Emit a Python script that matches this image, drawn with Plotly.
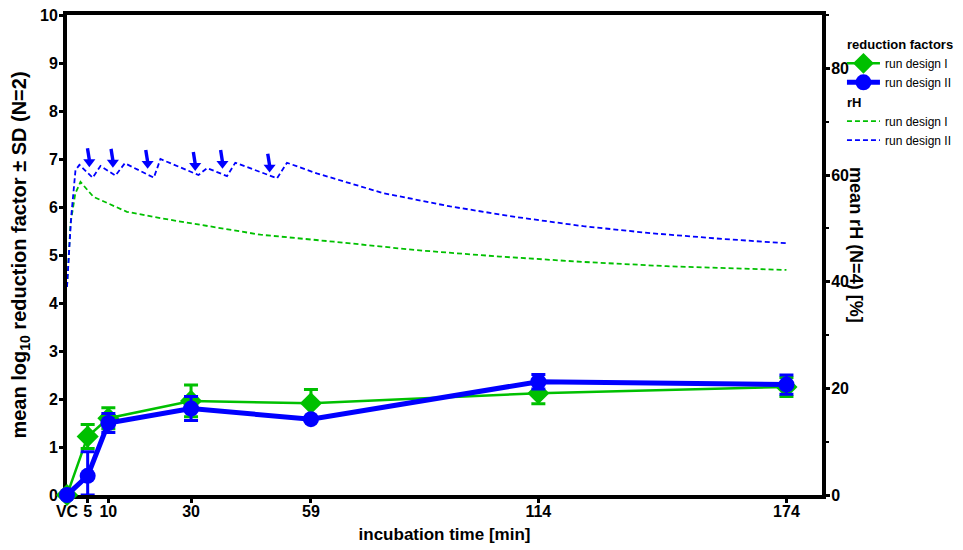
import plotly.graph_objects as go

# ---- reduction factors (log10) ----
rf_t = [0, 5, 10, 30, 59, 114, 174]
rf_I = [0, 1.22, 1.60, 1.96, 1.91, 2.12, 2.25]
rf_I_sd = [None, 0.25, 0.22, 0.33, 0.29, 0.22, 0.20]
rf_II = [0, 0.40, 1.50, 1.80, 1.58, 2.36, 2.30]
rf_II_sd_plus = [None, 0.50, 0.20, 0.25, 0.02, 0.15, 0.20]
rf_II_sd_minus = [None, 0.40, 0.20, 0.25, 0.02, 0.15, 0.20]

# ---- relative humidity (%) ----
rh_I_t = [0, 0.85, 2.0, 3.26, 6.4, 14.5, 22.6, 34.7, 46.8, 64.5, 84.6, 104.7, 124.9, 145.0, 167.1, 174]
rh_I = [39, 50.9, 56.5, 58.7, 55.9, 53.1, 51.9, 50.3, 48.8, 47.5, 45.9, 44.7, 43.7, 42.9, 42.3, 42.2]

rh_II_t = [0, 1.0, 2.05, 3.0, 6.2, 8.1, 11.7, 14.0, 21.0, 22.6, 31.8, 33.9, 38.7, 40.7, 50.8, 53.2,
           60.4, 76.5, 92.7, 108.8, 124.9, 141.0, 157.1, 167.1, 174]
rh_II = [39, 52, 60.9, 61.9, 59.5, 61.7, 59.9, 62.2, 59.5, 63.0, 60.0, 61.3, 59.8, 62.3, 59.4, 62.3,
         60.3, 56.6, 54.1, 52.1, 50.4, 49.1, 48.1, 47.5, 47.2]

# humidification events (arrows) for run design II: time and rH at arrow tip
arrow_t = [5.4, 11.1, 19.5, 31.0, 37.6, 49.0]
arrow_rh = [61.6, 61.5, 61.3, 60.9, 61.3, 60.6]

tick_vals = [0, 5, 10, 30, 59, 114, 174]
tick_text = ["VC", "5", "10", "30", "59", "114", "174"]

GREEN = "#00C000"
BLUE = "#0000FF"
FONT = "Liberation Sans"

fig = go.Figure()

fig.add_trace(go.Scatter(
    x=rh_I_t, y=rh_I, mode="lines", name="run design I", yaxis="y2",
    legendgroup="rh", legendgrouptitle_text="<b>rH</b>", legendrank=3,
    line=dict(color=GREEN, width=1.8, dash="5px,3px"),
))
fig.add_trace(go.Scatter(
    x=rh_II_t, y=rh_II, mode="lines", name="run design II", yaxis="y2",
    legendgroup="rh", legendrank=4,
    line=dict(color=BLUE, width=1.8, dash="5px,3px"),
))

# arrows: shaft + head, built from the arrow lists
shaft_x, shaft_y = [], []
for t, r in zip(arrow_t, arrow_rh):
    shaft_x += [t - 0.45, t, None]
    shaft_y += [r + 3.4, r + 1.2, None]
fig.add_trace(go.Scatter(x=shaft_x, y=shaft_y, yaxis="y2", mode="lines", showlegend=False,
                         hoverinfo="skip", line=dict(color=BLUE, width=3.4)))
fig.add_trace(go.Scatter(x=arrow_t, y=[r + 0.85 for r in arrow_rh], yaxis="y2", mode="markers",
                         showlegend=False, hoverinfo="skip",
                         marker=dict(symbol="triangle-down", size=10.5, color=BLUE)))

fig.add_trace(go.Scatter(
    x=rf_t, y=rf_I, mode="lines+markers", name="run design I",
    legendgroup="rf", legendgrouptitle_text="<b>reduction factors</b>", legendrank=1,
    line=dict(color=GREEN, width=2.5),
    marker=dict(symbol="diamond", size=17, color=GREEN),
    error_y=dict(type="data", array=rf_I_sd, color=GREEN, thickness=3, width=7),
    cliponaxis=False,
))
fig.add_trace(go.Scatter(
    x=rf_t, y=rf_II, mode="lines+markers", name="run design II",
    legendgroup="rf", legendrank=2,
    line=dict(color=BLUE, width=5),
    marker=dict(symbol="circle", size=16, color=BLUE),
    error_y=dict(type="data", symmetric=False, array=rf_II_sd_plus, arrayminus=rf_II_sd_minus,
                 color=BLUE, thickness=3, width=7),
    cliponaxis=False,
))

axis_common = dict(showgrid=False, zeroline=False, showline=True, linecolor="black",
                   linewidth=4, ticks="outside", ticklen=4, tickwidth=3, tickcolor="black",
                   automargin=False, layer="below traces", ticklabeloverflow="allow",
                   tickfont=dict(family=FONT, size=16, color="black", weight="bold"))

fig.update_layout(
    width=963, height=550,
    margin=dict(l=58.5, r=148.7, t=7, b=63),
    plot_bgcolor="white", paper_bgcolor="white",
    font=dict(family=FONT, color="black"),
    xaxis=dict(range=[0, 182.6], tickvals=tick_vals, ticktext=tick_text, mirror=True,
               ticklabelstandoff=-5,
               title=dict(text="incubation time [min]", standoff=10,
                          font=dict(family=FONT, size=17, weight="bold")),
               **axis_common),
    yaxis=dict(range=[0, 10], dtick=1, ticklabelstandoff=-2,
               title=dict(text="mean log<sub>10</sub> reduction factor ± SD (N=2)", standoff=12,
                          font=dict(family=FONT, size=20, weight="bold")),
               **axis_common),
    yaxis2=dict(range=[0, 90], overlaying="y", side="right", tickvals=[0, 20, 40, 60, 80],
                ticklabelstandoff=-2,
                minor=dict(dtick=10, ticks="outside", ticklen=3, tickwidth=2, tickcolor="black"),
                **axis_common),
    legend=dict(xref="container", yref="container", x=0.866, y=0.962,
                xanchor="left", yanchor="top",
                font=dict(family=FONT, size=12, color="black"),
                grouptitlefont=dict(family=FONT, size=13, color="black"),
                tracegroupgap=0, itemwidth=33, bgcolor="rgba(0,0,0,0)"),
    showlegend=True,
)

fig.add_annotation(text="<b>mean rH (N=4) [%]</b>", xref="paper", yref="paper",
                   x=1.06, y=0.52, textangle=90, showarrow=False,
                   font=dict(family=FONT, size=18, color="black"))

fig.write_html("out.html")
